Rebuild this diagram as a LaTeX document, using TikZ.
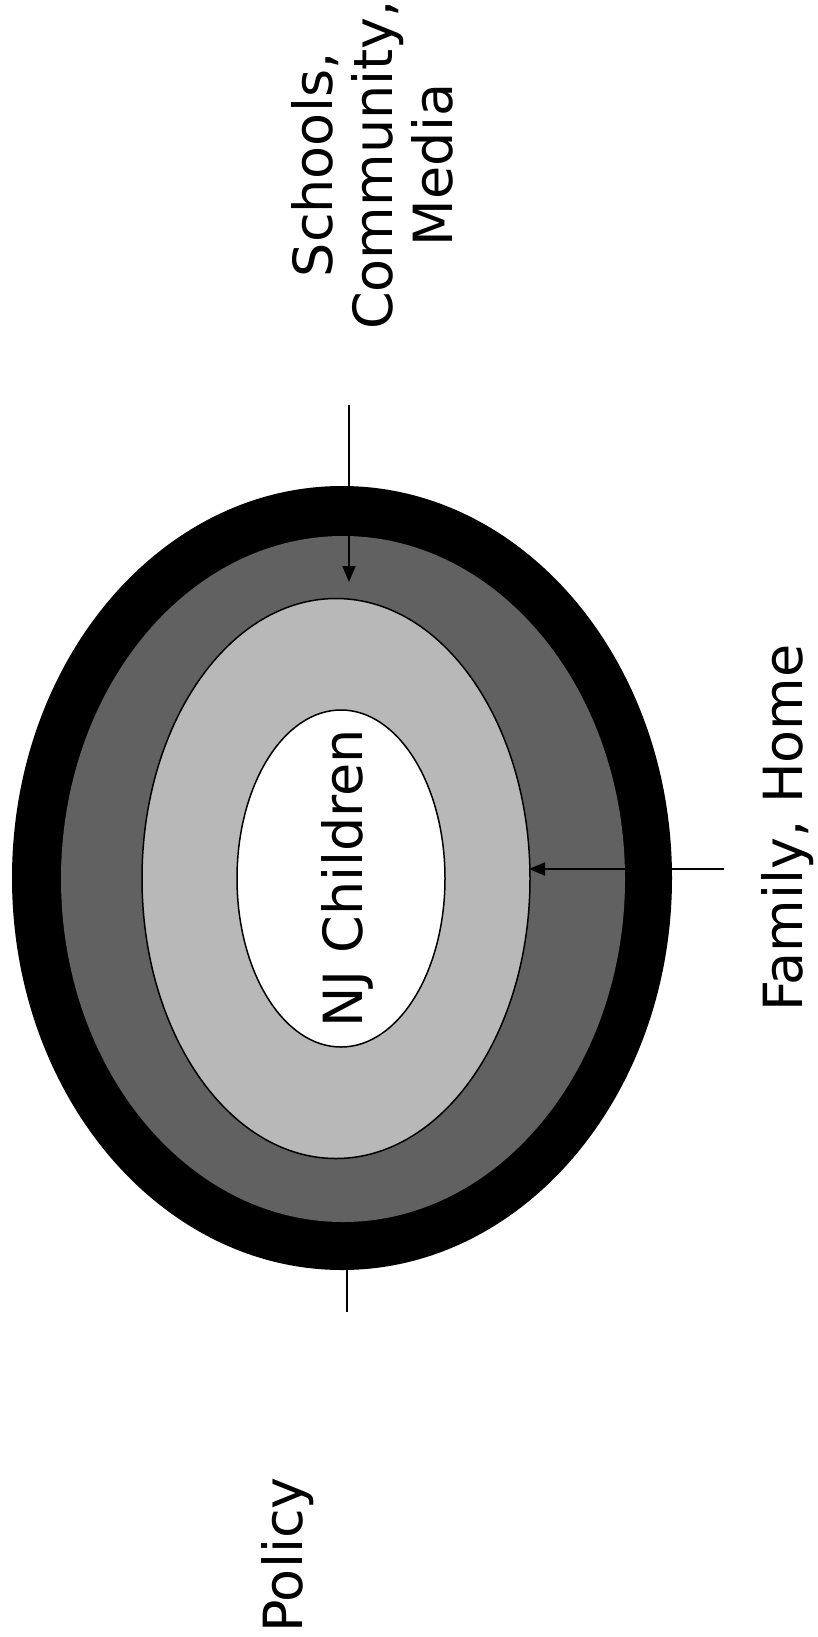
\documentclass[tikz,border=0pt]{standalone}
\usepackage{fontspec}
\setmainfont{DejaVu Sans}
\usetikzlibrary{shapes.geometric,arrows.meta}
\definecolor{darkband}{gray}{0.38}
\definecolor{lightband}{gray}{0.72}
\tikzset{
  ring/.style={ellipse, inner sep=0pt, outer sep=0pt},
  lbl/.style={rotate=90, inner sep=0pt, font=\fontsize{54}{60}\selectfont, align=center},
  conn/.style={line width=2pt, draw=black},
  arr/.style={conn, -{Triangle[length=16pt,width=13pt]}}
}
\begin{document}
\begin{tikzpicture}[x=1pt,y=-1pt]
\useasboundingbox (0,0) rectangle (817,1637);
\fill[white] (0,0) rectangle (817,1637);
\node[ring, fill=black, minimum width=660pt, minimum height=784pt] (outer) at (342,878) {};
\node[ring, fill=darkband, minimum width=564pt, minimum height=686pt] (dark) at (343,879) {};
\node[ring, fill=lightband, draw=black, line width=1.5pt, minimum width=388pt, minimum height=560pt] (light) at (336,878.5) {};
\node[ring, fill=white, draw=black, line width=1.5pt, minimum width=208pt, minimum height=337pt] (inner) at (341,878.5) {};
\node[lbl, anchor=base] (nj) at (362,878) {NJ Children};
\node[lbl] (schools) at (372,165) {Schools,\\Community,\\Media};
\node[lbl, anchor=base] (family) at (802,828) {Family, Home};
\node[lbl, anchor=base] (policy) at (302,1555) {Policy};
\coordinate (topstart) at (349,405);
\coordinate (toptip) at (349,582);
\coordinate (rightstart) at (724,869);
\coordinate (righttip) at (529,869);
\coordinate (botend) at (347,1312);
\draw[arr] (topstart) -- (toptip);
\draw[arr] (rightstart) -- (righttip);
\draw[conn] (outer.south) ++(5,0) coordinate (botstart);
\draw[conn] (347,1268) coordinate (bs) -- (botend);
\end{tikzpicture}
\end{document}
